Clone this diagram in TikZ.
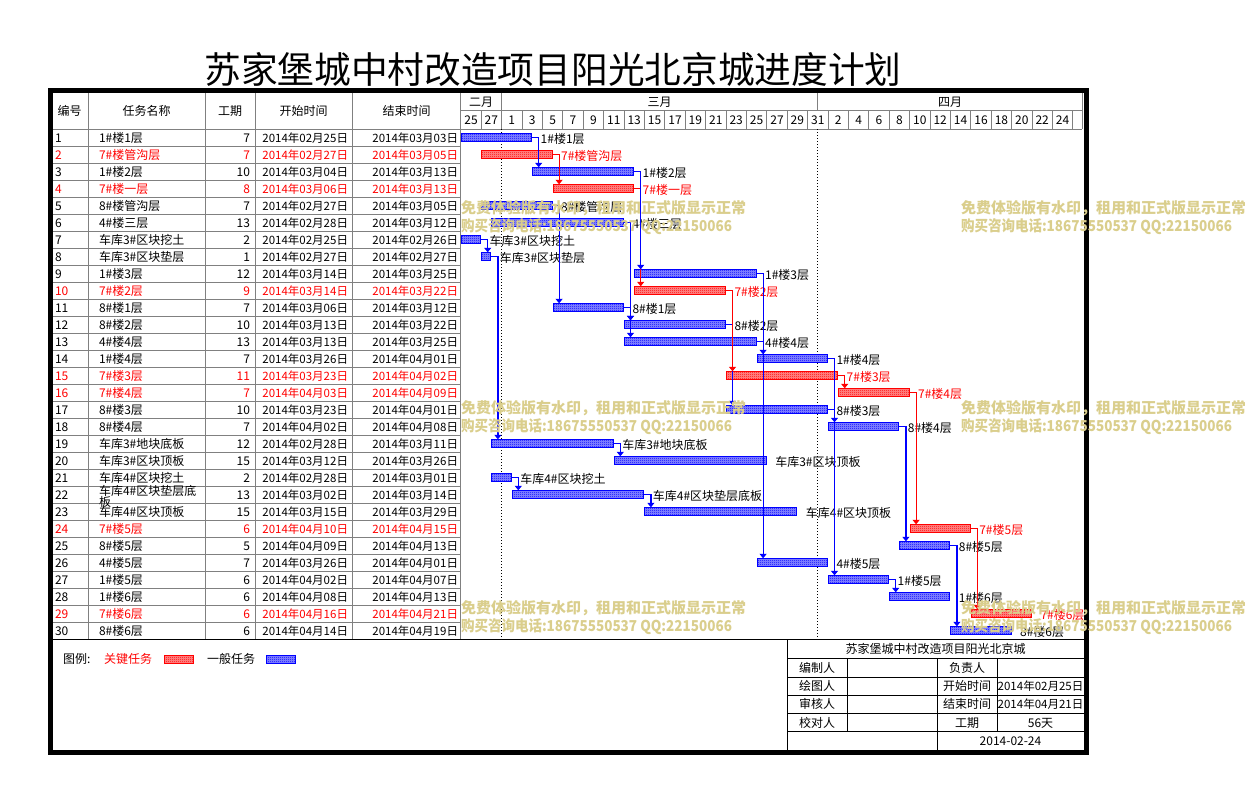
\documentclass[tikz,border=0pt]{standalone}
\usepackage{fontspec}
\setmainfont{Noto Sans CJK SC}
\usetikzlibrary{arrows.meta,patterns,calc}
\pgfdeclarepatternformonly{finecheck}{\pgfpointorigin}{\pgfpoint{2pt}{2pt}}{\pgfpoint{2pt}{2pt}}{%
  \pgfpathrectangle{\pgfpointorigin}{\pgfpoint{1pt}{1pt}}%
  \pgfpathrectangle{\pgfpoint{1pt}{1pt}}{\pgfpoint{1pt}{1pt}}%
  \pgfusepath{fill}}
\definecolor{gridgray}{RGB}{128,128,128}
\definecolor{wmcol}{RGB}{218,206,140}
\newcommand\fs[1]{\fontsize{#1}{#1}\selectfont}
\tikzset{
  txt/.style={inner sep=0pt, outer sep=0pt, font=\fs{12pt}, text height=10.2pt, text depth=1.2pt},
  smalltxt/.style={txt, font=\fs{11.5pt}},
  titletxt/.style={inner sep=0pt, outer sep=0pt, font=\fs{36.7pt}, text height=31.2pt, text depth=3.7pt},
  wmtxt/.style={inner sep=0pt, outer sep=0pt, font=\fs{15pt}\bfseries, text height=12.75pt, text depth=1.5pt, text=wmcol, anchor=west},
  gridline/.style={draw=gridgray, line width=1pt},
  infoline/.style={draw=black, line width=1pt},
  dotline/.style={draw=black, line width=1pt, dash pattern=on 1pt off 2pt},
  gbar/.style={draw=#1, line width=1pt, pattern=finecheck, pattern color=#1, preaction={fill=#1!45!white}, inner sep=0pt, outer sep=0pt, minimum height=8pt},
  dep/.style={draw=#1, line width=1.2pt, -{Triangle[width=7pt,length=4.5pt]}},
}
\newcommand\trow[6]{%
  \pgfmathsetmacro\ty{129.3+17*(#1-1)+8.5}
  \node[txt,anchor=west,text=#2] (n#1) at (55,\ty) {#1};
  \node[txt,anchor=west,text=#2] (t#1) at (99,\ty) {#3};
  \node[txt,anchor=east,text=#2] (p#1) at (250,\ty) {#4};
  \node[smalltxt,anchor=east,text=#2] (s#1) at (348,\ty) {#5};
  \node[smalltxt,anchor=east,text=#2] (e#1) at (458,\ty) {#6};
}
\newcommand\gtask[6]{%
  \pgfmathsetmacro\gxa{460.8+10.2*#2+0.5}
  \pgfmathsetmacro\gw{10.2*(#3-#2)-1}
  \pgfmathsetmacro\gyt{129.3+17*(#1-1)+3.5+0.5}
  \node[gbar=#4, minimum width=\gw pt, anchor=north west] (b#1) at (\gxa,\gyt) {};
  \node[txt, anchor=west, text=#5] (l#1) at ($(b#1.east)+(9,1.5)$) {#6};
}
\newcommand\gdep[3]{%
  \draw[dep=#3] (b#1.east) -- ++(7,0) coordinate (d#1x#2) -- (d#1x#2 |- b#2.north);
}
\begin{document}
\begin{tikzpicture}[x=1pt,y=-1pt]
\useasboundingbox (0,0) rectangle (1245,801);
\fill[white] (0,0) rectangle (1245,801);

% title
\node[titletxt] (title) at (553,69.5) {苏家堡城中村改造项目阳光北京城进度计划};

% left table grid
\foreach \k in {0,...,29} \draw[gridline] (53,129.3+17*\k) -- (460.8,129.3+17*\k);
\foreach \x in {88,205,255,352,460.8} \draw[gridline] (\x,93) -- (\x,639.3);

% chart header grid
\draw[gridline] (460.8,110.5) -- (1082,110.5);
\draw[gridline] (460.8,129.3) -- (1082,129.3);
\foreach \k in {1,...,30} \draw[gridline] (460.8+20.4*\k,110.5) -- (460.8+20.4*\k,129.3);
\foreach \x in {501.6,817.8} \draw[gridline] (\x,93) -- (\x,110.5);
\draw[gridline] (1082,93) -- (1082,129.3);
\foreach \x in {501.6,817.8} \draw[dotline] (\x,129.3) -- (\x,639.3);

% headers
\node[txt] (h1) at (69.5,111) {编号};
\node[txt] (h2) at (146.5,111) {任务名称};
\node[txt] (h3) at (230,111) {工期};
\node[txt] (h4) at (303.5,111) {开始时间};
\node[txt] (h5) at (406.5,111) {结束时间};
\node[txt] (m1) at (481.2,101.5) {二月};
\node[txt] (m2) at (659.7,101.5) {三月};
\node[txt] (m3) at (950,101.5) {四月};
\foreach \lab [count=\k from 0] in {25,27,1,3,5,7,9,11,13,15,17,19,21,23,25,27,29,31,2,4,6,8,10,12,14,16,18,20,22,24}
  \node[txt] (day\k) at (460.8+20.4*\k+10.2,120) {\lab};

% table rows
\trow{1}{black}{1\#楼1层}{7}{2014年02月25日}{2014年03月03日}
\trow{2}{red}{7\#楼管沟层}{7}{2014年02月27日}{2014年03月05日}
\trow{3}{black}{1\#楼2层}{10}{2014年03月04日}{2014年03月13日}
\trow{4}{red}{7\#楼一层}{8}{2014年03月06日}{2014年03月13日}
\trow{5}{black}{8\#楼管沟层}{7}{2014年02月27日}{2014年03月05日}
\trow{6}{black}{4\#楼三层}{13}{2014年02月28日}{2014年03月12日}
\trow{7}{black}{车库3\#区块挖土}{2}{2014年02月25日}{2014年02月26日}
\trow{8}{black}{车库3\#区块垫层}{1}{2014年02月27日}{2014年02月27日}
\trow{9}{black}{1\#楼3层}{12}{2014年03月14日}{2014年03月25日}
\trow{10}{red}{7\#楼2层}{9}{2014年03月14日}{2014年03月22日}
\trow{11}{black}{8\#楼1层}{7}{2014年03月06日}{2014年03月12日}
\trow{12}{black}{8\#楼2层}{10}{2014年03月13日}{2014年03月22日}
\trow{13}{black}{4\#楼4层}{13}{2014年03月13日}{2014年03月25日}
\trow{14}{black}{1\#楼4层}{7}{2014年03月26日}{2014年04月01日}
\trow{15}{red}{7\#楼3层}{11}{2014年03月23日}{2014年04月02日}
\trow{16}{red}{7\#楼4层}{7}{2014年04月03日}{2014年04月09日}
\trow{17}{black}{8\#楼3层}{10}{2014年03月23日}{2014年04月01日}
\trow{18}{black}{8\#楼4层}{7}{2014年04月02日}{2014年04月08日}
\trow{19}{black}{车库3\#地块底板}{12}{2014年02月28日}{2014年03月11日}
\trow{20}{black}{车库3\#区块顶板}{15}{2014年03月12日}{2014年03月26日}
\trow{21}{black}{车库4\#区块挖土}{2}{2014年02月28日}{2014年03月01日}
\trow{22}{black}{}{13}{2014年03月02日}{2014年03月14日}
\node[txt,anchor=west] (t22a) at (99,491) {车库4\#区块垫层底};
\node[txt,anchor=west] (t22b) at (99,501.5) {板};
\trow{23}{black}{车库4\#区块顶板}{15}{2014年03月15日}{2014年03月29日}
\trow{24}{red}{7\#楼5层}{6}{2014年04月10日}{2014年04月15日}
\trow{25}{black}{8\#楼5层}{5}{2014年04月09日}{2014年04月13日}
\trow{26}{black}{4\#楼5层}{7}{2014年03月26日}{2014年04月01日}
\trow{27}{black}{1\#楼5层}{6}{2014年04月02日}{2014年04月07日}
\trow{28}{black}{1\#楼6层}{6}{2014年04月08日}{2014年04月13日}
\trow{29}{red}{7\#楼6层}{6}{2014年04月16日}{2014年04月21日}
\trow{30}{black}{8\#楼6层}{6}{2014年04月14日}{2014年04月19日}

% bars and labels
\gtask{1}{0}{7}{blue}{black}{1\#楼1层}
\gtask{2}{2}{9}{red}{red}{7\#楼管沟层}
\gtask{3}{7}{17}{blue}{black}{1\#楼2层}
\gtask{4}{9}{17}{red}{red}{7\#楼一层}
\gtask{5}{2}{9}{blue}{black}{8\#楼管沟层}
\gtask{6}{3}{16}{blue}{black}{4\#楼三层}
\gtask{7}{0}{2}{blue}{black}{车库3\#区块挖土}
\gtask{8}{2}{3}{blue}{black}{车库3\#区块垫层}
\gtask{9}{17}{29}{blue}{black}{1\#楼3层}
\gtask{10}{17}{26}{red}{red}{7\#楼2层}
\gtask{11}{9}{16}{blue}{black}{8\#楼1层}
\gtask{12}{16}{26}{blue}{black}{8\#楼2层}
\gtask{13}{16}{29}{blue}{black}{4\#楼4层}
\gtask{14}{29}{36}{blue}{black}{1\#楼4层}
\gtask{15}{26}{37}{red}{red}{7\#楼3层}
\gtask{16}{37}{44}{red}{red}{7\#楼4层}
\gtask{17}{26}{36}{blue}{black}{8\#楼3层}
\gtask{18}{36}{43}{blue}{black}{8\#楼4层}
\gtask{19}{3}{15}{blue}{black}{车库3\#地块底板}
\gtask{20}{15}{30}{blue}{black}{车库3\#区块顶板}
\gtask{21}{3}{5}{blue}{black}{车库4\#区块挖土}
\gtask{22}{5}{18}{blue}{black}{车库4\#区块垫层底板}
\gtask{23}{18}{33}{blue}{black}{车库4\#区块顶板}
\gtask{24}{44}{50}{red}{red}{7\#楼5层}
\gtask{25}{43}{48}{blue}{black}{8\#楼5层}
\gtask{26}{29}{36}{blue}{black}{4\#楼5层}
\gtask{27}{36}{42}{blue}{black}{1\#楼5层}
\gtask{28}{42}{48}{blue}{black}{1\#楼6层}
\gtask{29}{50}{56}{red}{red}{7\#楼6层}
\gtask{30}{48}{54}{blue}{black}{8\#楼6层}

% dependencies
\gdep{4}{10}{red}
\gdep{1}{3}{blue}
\gdep{2}{4}{red}
\gdep{3}{9}{blue}
\gdep{5}{11}{blue}
\gdep{6}{12}{blue}
\gdep{6}{13}{blue}
\gdep{11}{12}{blue}
\gdep{7}{8}{blue}
\gdep{8}{19}{blue}
\gdep{9}{14}{blue}
\gdep{13}{26}{blue}
\gdep{12}{17}{blue}
\gdep{10}{15}{red}
\gdep{14}{27}{blue}
\gdep{17}{18}{blue}
\gdep{15}{16}{red}
\gdep{16}{24}{red}
\gdep{18}{25}{blue}
\gdep{19}{20}{blue}
\gdep{21}{22}{blue}
\gdep{22}{23}{blue}
\gdep{24}{29}{red}
\gdep{25}{30}{blue}
\gdep{27}{28}{blue}

% separator under table
\draw[line width=1.5pt] (53,639.3) -- (1084,639.3);

% legend
\node[txt,anchor=west] (lg0) at (63,659) {图例:};
\node[txt,anchor=west,text=red] (lg1) at (104,659) {关键任务};
\node[gbar=red, minimum width=29pt] (lgr) at (179,659) {};
\node[txt,anchor=west] (lg2) at (207,659) {一般任务};
\node[gbar=blue, minimum width=29pt] (lgb) at (281,659) {};

% info table
\draw[infoline] (787,639.3) -- (787,750);
\foreach \y in {658.7,677,695.3,713.5,731.7} \draw[infoline] (787,\y) -- (1084,\y);
\draw[infoline] (847,658.7) -- (847,731.7);
\draw[infoline] (937,658.7) -- (937,750);
\draw[infoline] (997,658.7) -- (997,731.7);
\node[txt] (i0) at (935.5,649) {苏家堡城中村改造项目阳光北京城};
\node[txt] (i1) at (817,667.8) {编制人};
\node[txt] (i2) at (817,686.2) {绘图人};
\node[txt] (i3) at (817,704.4) {审核人};
\node[txt] (i4) at (817,722.6) {校对人};
\node[txt] (j1) at (967,667.8) {负责人};
\node[txt] (j2) at (967,686.2) {开始时间};
\node[txt] (j3) at (967,704.4) {结束时间};
\node[txt] (j4) at (967,722.6) {工期};
\node[smalltxt] (k2) at (1040.5,686.2) {2014年02月25日};
\node[smalltxt] (k3) at (1040.5,704.4) {2014年04月21日};
\node[txt] (k4) at (1040.5,722.6) {56天};
\node[txt] (k5) at (1010.5,740.8) {2014-02-24};

% frame
\draw[line width=5pt] (50.5,90.5) rectangle (1086.5,752.5);

% watermark
\foreach \wx/\wy [count=\w] in {461/208,961/208,461/408,961/408,461/608,961/608}{
  \node[wmtxt] (wa\w) at (\wx,\wy) {免费体验版有水印，租用和正式版显示正常};
  \node[wmtxt] (wb\w) at (\wx,\wy+18) {\scalebox{0.9}[1]{购买咨询电话:18675550537 QQ:22150066}};
}
\end{tikzpicture}
\end{document}
